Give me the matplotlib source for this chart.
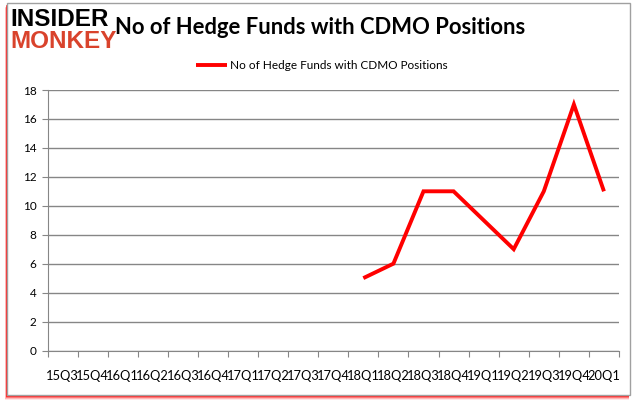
import matplotlib.pyplot as plt
from matplotlib.patches import Rectangle
import numpy as np

# quarters shown on the x axis
quarters = ['15Q3', '15Q4', '16Q1', '16Q2', '16Q3', '16Q4', '17Q1', '17Q2', '17Q3', '17Q4',
            '18Q1', '18Q2', '18Q3', '18Q4', '19Q1', '19Q2', '19Q3', '19Q4', '20Q1']
# hedge fund counts, only from 18Q1 on
fund_quarters = ['18Q1', '18Q2', '18Q3', '18Q4', '19Q1', '19Q2', '19Q3', '19Q4', '20Q1']
fund_counts = [5, 6, 11, 11, 9, 7, 11, 17, 11]
y_ticks = [0, 2, 4, 6, 8, 10, 12, 14, 16, 18]

series_label = 'No of Hedge Funds with CDMO Positions'

plt.rcParams['font.family'] = ['Lato', 'DejaVu Sans']

fig = plt.figure(figsize=(6.37, 4.08), dpi=100)
W, H = 637, 408

# shadowed frame around the chart (red glow bottom/left)
for i, a in enumerate([0.1, 0.2, 0.35, 0.6]):
    off = 5 - i
    fig.patches.append(Rectangle(((7 - off * 0.5) / W, (H - 395 - off) / H),
                                 (623 + off * 0.2) / W, 392 / H,
                                 transform=fig.transFigure, facecolor='red',
                                 edgecolor='none', alpha=a, zorder=0))
fig.patches.append(Rectangle((7 / W, (H - 395) / H), 623 / W, 392 / H,
                             transform=fig.transFigure, facecolor='white',
                             edgecolor='#a0a0a0', linewidth=1, zorder=1))

ax = fig.add_axes([47.5 / W, (H - 350.5) / H, (619 - 47.5) / W, (350.5 - 90) / H])
ax.set_zorder(2)
ax.patch.set_alpha(0)

xpos = [quarters.index(q) + 0.5 for q in fund_quarters]
ax.plot(xpos, fund_counts, color='#ff0000', linewidth=2.8, solid_capstyle='butt',
        solid_joinstyle='miter', label=series_label)

ax.set_xlim(0, len(quarters))
ax.set_ylim(0, 18)
ax.set_yticks(y_ticks)
ax.set_yticklabels([str(v) for v in y_ticks], fontsize=8.5)
ax.yaxis.grid(True, color='#868686', linewidth=1)
ax.set_axisbelow(True)

ax.set_xticks(np.arange(len(quarters) + 1))
ax.set_xticklabels([])
ax.set_xticks(np.arange(len(quarters)) + 0.5, minor=True)
ax.set_xticklabels(quarters, minor=True, fontsize=9.3)
ax.tick_params(axis='x', which='major', length=4, color='#868686', direction='out')
ax.tick_params(axis='x', which='minor', length=0, pad=14)
ax.tick_params(axis='y', length=4, color='#868686', pad=4)

for s in ['top', 'right']:
    ax.spines[s].set_visible(False)
ax.spines['left'].set_color('#868686')
ax.spines['bottom'].set_color('#868686')

ax.legend(loc='upper center', bbox_to_anchor=(0.48, 1.155), frameon=False,
          fontsize=8.5, handlelength=2.6, handletextpad=0.3)

fig.text(320 / W, 1 - 28 / H, 'No of Hedge Funds with CDMO Positions', ha='center',
         va='center', fontsize=15.8, fontweight='bold', zorder=3)

# logo
logo_font = ['Liberation Sans Narrow', 'Liberation Sans']
fig.text(10 / W, 1 - 20 / H, 'INSIDER', ha='left', va='center', fontsize=17.5,
         fontweight='heavy', color='black', zorder=3, family=logo_font)
fig.text(10 / W, 1 - 42 / H, 'MONKEY', ha='left', va='center', fontsize=17.5,
         fontweight='heavy', color='#d9432c', zorder=3, family=logo_font)

fig.savefig('out.png', dpi=100)
